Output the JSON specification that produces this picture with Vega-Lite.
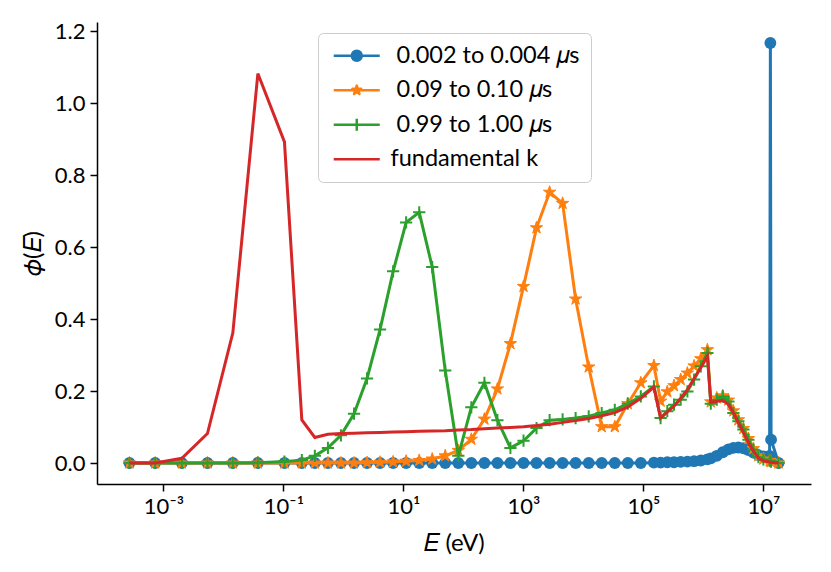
{
"$schema": "https://vega.github.io/schema/vega-lite/v6.json",
"width": 714, "height": 462,
"autosize": "none",
"padding": {"left": 97, "top": 22, "right": 20, "bottom": 88},
"background": "white",
"config": {"view": {"stroke": null}, "font": "Lato"},
"data": {"values": [
{"k":"b","E":0.000271,"phi":0},{"k":"b","E":0.000727,"phi":0},{"k":"b","E":0.002026,"phi":0},{"k":"b","E":0.00541,"phi":0},{"k":"b","E":0.01434,"phi":0},{"k":"b","E":0.03745,"phi":0},{"k":"b","E":0.1039,"phi":0},{"k":"b","E":0.2025,"phi":0},{"k":"b","E":0.3338,"phi":0},{"k":"b","E":0.5515,"phi":0},{"k":"b","E":0.9085,"phi":0},{"k":"b","E":1.502,"phi":0},{"k":"b","E":2.474,"phi":0},{"k":"b","E":4.074,"phi":0},{"k":"b","E":6.734,"phi":0},{"k":"b","E":11.09,"phi":0},{"k":"b","E":18.34,"phi":0},{"k":"b","E":30.2,"phi":0},{"k":"b","E":49.74,"phi":0},{"k":"b","E":82.22,"phi":0},{"k":"b","E":135.4,"phi":0},{"k":"b","E":223.9,"phi":0},{"k":"b","E":368.8,"phi":0},{"k":"b","E":607.3,"phi":0},{"k":"b","E":1004,"phi":0},{"k":"b","E":1653,"phi":0},{"k":"b","E":2734,"phi":0},{"k":"b","E":4502,"phi":0},{"k":"b","E":7413,"phi":0},{"k":"b","E":12255,"phi":0},{"k":"b","E":20184,"phi":0},{"k":"b","E":33370,"phi":0},{"k":"b","E":54950,"phi":0},{"k":"b","E":90510,"phi":0},{"k":"b","E":149600,"phi":0.001},{"k":"b","E":193500,"phi":0.001},{"k":"b","E":250200,"phi":0.002},{"k":"b","E":323600,"phi":0.002},{"k":"b","E":418500,"phi":0.003},{"k":"b","E":541200,"phi":0.004},{"k":"b","E":699800,"phi":0.005},{"k":"b","E":905100,"phi":0.007},{"k":"b","E":1166000,"phi":0.01},{"k":"b","E":1329000,"phi":0.013},{"k":"b","E":1672000,"phi":0.02},{"k":"b","E":2105000,"phi":0.03},{"k":"b","E":2610000,"phi":0.038},{"k":"b","E":3162000,"phi":0.042},{"k":"b","E":3831000,"phi":0.043},{"k":"b","E":4642000,"phi":0.041},{"k":"b","E":5623000,"phi":0.036},{"k":"b","E":6813000,"phi":0.029},{"k":"b","E":8254000,"phi":0.022},{"k":"b","E":10000000,"phi":0.018},{"k":"b","E":12700000,"phi":0.02},{"k":"b","E":13080000,"phi":1.168},{"k":"b","E":13440000,"phi":0.065},{"k":"b","E":17920000,"phi":0},
{"k":"o","E":0.000271,"phi":0},{"k":"o","E":0.000727,"phi":0},{"k":"o","E":0.002026,"phi":0},{"k":"o","E":0.00541,"phi":0},{"k":"o","E":0.01434,"phi":0},{"k":"o","E":0.03745,"phi":0},{"k":"o","E":0.1039,"phi":0},{"k":"o","E":0.2025,"phi":0},{"k":"o","E":0.3338,"phi":0},{"k":"o","E":0.5515,"phi":0},{"k":"o","E":0.9085,"phi":0},{"k":"o","E":1.502,"phi":0},{"k":"o","E":2.474,"phi":0.001},{"k":"o","E":4.074,"phi":0.002},{"k":"o","E":6.734,"phi":0.003},{"k":"o","E":11.09,"phi":0.005},{"k":"o","E":18.34,"phi":0.007},{"k":"o","E":30.2,"phi":0.011},{"k":"o","E":49.74,"phi":0.02},{"k":"o","E":82.22,"phi":0.035},{"k":"o","E":135.4,"phi":0.066},{"k":"o","E":223.9,"phi":0.122},{"k":"o","E":368.8,"phi":0.206},{"k":"o","E":607.3,"phi":0.332},{"k":"o","E":1004,"phi":0.491},{"k":"o","E":1653,"phi":0.654},{"k":"o","E":2734,"phi":0.753},{"k":"o","E":4502,"phi":0.722},{"k":"o","E":7413,"phi":0.456},{"k":"o","E":12255,"phi":0.267},{"k":"o","E":20184,"phi":0.101},{"k":"o","E":33370,"phi":0.101},{"k":"o","E":54950,"phi":0.165},{"k":"o","E":90510,"phi":0.223},{"k":"o","E":149600,"phi":0.271},{"k":"o","E":193500,"phi":0.172},{"k":"o","E":250200,"phi":0.198},{"k":"o","E":323600,"phi":0.215},{"k":"o","E":418500,"phi":0.232},{"k":"o","E":541200,"phi":0.25},{"k":"o","E":699800,"phi":0.27},{"k":"o","E":905100,"phi":0.29},{"k":"o","E":1166000,"phi":0.315},{"k":"o","E":1329000,"phi":0.17},{"k":"o","E":1672000,"phi":0.181},{"k":"o","E":2105000,"phi":0.187},{"k":"o","E":2610000,"phi":0.175},{"k":"o","E":3162000,"phi":0.145},{"k":"o","E":3831000,"phi":0.12},{"k":"o","E":4642000,"phi":0.096},{"k":"o","E":5623000,"phi":0.068},{"k":"o","E":6813000,"phi":0.04},{"k":"o","E":8254000,"phi":0.02},{"k":"o","E":10000000,"phi":0.011},{"k":"o","E":12700000,"phi":0.007},{"k":"o","E":13080000,"phi":0.005},{"k":"o","E":13440000,"phi":0.004},{"k":"o","E":17920000,"phi":0},
{"k":"g","E":0.000271,"phi":0},{"k":"g","E":0.000727,"phi":0},{"k":"g","E":0.002026,"phi":0},{"k":"g","E":0.00541,"phi":0},{"k":"g","E":0.01434,"phi":0},{"k":"g","E":0.03745,"phi":0.001},{"k":"g","E":0.1039,"phi":0.004},{"k":"g","E":0.2025,"phi":0.008},{"k":"g","E":0.3338,"phi":0.02},{"k":"g","E":0.5515,"phi":0.042},{"k":"g","E":0.9085,"phi":0.077},{"k":"g","E":1.502,"phi":0.137},{"k":"g","E":2.474,"phi":0.235},{"k":"g","E":4.074,"phi":0.371},{"k":"g","E":6.734,"phi":0.533},{"k":"g","E":11.09,"phi":0.669},{"k":"g","E":18.34,"phi":0.697},{"k":"g","E":30.2,"phi":0.545},{"k":"g","E":49.74,"phi":0.257},{"k":"g","E":82.22,"phi":0.02},{"k":"g","E":135.4,"phi":0.155},{"k":"g","E":223.9,"phi":0.223},{"k":"g","E":368.8,"phi":0.119},{"k":"g","E":607.3,"phi":0.042},{"k":"g","E":1004,"phi":0.062},{"k":"g","E":1653,"phi":0.097},{"k":"g","E":2734,"phi":0.119},{"k":"g","E":4502,"phi":0.121},{"k":"g","E":7413,"phi":0.125},{"k":"g","E":12255,"phi":0.13},{"k":"g","E":20184,"phi":0.139},{"k":"g","E":33370,"phi":0.148},{"k":"g","E":54950,"phi":0.165},{"k":"g","E":90510,"phi":0.185},{"k":"g","E":149600,"phi":0.213},{"k":"g","E":193500,"phi":0.125},{"k":"g","E":250200,"phi":0.144},{"k":"g","E":323600,"phi":0.162},{"k":"g","E":418500,"phi":0.176},{"k":"g","E":541200,"phi":0.199},{"k":"g","E":699800,"phi":0.232},{"k":"g","E":905100,"phi":0.269},{"k":"g","E":1166000,"phi":0.306},{"k":"g","E":1329000,"phi":0.165},{"k":"g","E":1672000,"phi":0.176},{"k":"g","E":2105000,"phi":0.185},{"k":"g","E":2610000,"phi":0.171},{"k":"g","E":3162000,"phi":0.139},{"k":"g","E":3831000,"phi":0.116},{"k":"g","E":4642000,"phi":0.093},{"k":"g","E":5623000,"phi":0.065},{"k":"g","E":6813000,"phi":0.037},{"k":"g","E":8254000,"phi":0.016},{"k":"g","E":10000000,"phi":0.01},{"k":"g","E":12700000,"phi":0.007},{"k":"g","E":13080000,"phi":0.005},{"k":"g","E":13440000,"phi":0.004},{"k":"g","E":17920000,"phi":0},
{"k":"r","E":0.000271,"phi":0},{"k":"r","E":0.000727,"phi":0},{"k":"r","E":0.002026,"phi":0.013},{"k":"r","E":0.00541,"phi":0.082},{"k":"r","E":0.01434,"phi":0.362},{"k":"r","E":0.03745,"phi":1.083},{"k":"r","E":0.1039,"phi":0.893},{"k":"r","E":0.2025,"phi":0.12},{"k":"r","E":0.3338,"phi":0.071},{"k":"r","E":0.5515,"phi":0.08},{"k":"r","E":0.9085,"phi":0.082},{"k":"r","E":1.502,"phi":0.083},{"k":"r","E":2.474,"phi":0.084},{"k":"r","E":4.074,"phi":0.085},{"k":"r","E":6.734,"phi":0.086},{"k":"r","E":11.09,"phi":0.087},{"k":"r","E":18.34,"phi":0.088},{"k":"r","E":30.2,"phi":0.089},{"k":"r","E":49.74,"phi":0.09},{"k":"r","E":82.22,"phi":0.092},{"k":"r","E":135.4,"phi":0.093},{"k":"r","E":223.9,"phi":0.095},{"k":"r","E":368.8,"phi":0.097},{"k":"r","E":607.3,"phi":0.099},{"k":"r","E":1004,"phi":0.101},{"k":"r","E":1653,"phi":0.104},{"k":"r","E":2734,"phi":0.108},{"k":"r","E":4502,"phi":0.113},{"k":"r","E":7413,"phi":0.118},{"k":"r","E":12255,"phi":0.124},{"k":"r","E":20184,"phi":0.131},{"k":"r","E":33370,"phi":0.14},{"k":"r","E":54950,"phi":0.156},{"k":"r","E":90510,"phi":0.18},{"k":"r","E":149600,"phi":0.211},{"k":"r","E":193500,"phi":0.125},{"k":"r","E":250200,"phi":0.142},{"k":"r","E":323600,"phi":0.158},{"k":"r","E":418500,"phi":0.18},{"k":"r","E":541200,"phi":0.204},{"k":"r","E":699800,"phi":0.235},{"k":"r","E":905100,"phi":0.265},{"k":"r","E":1166000,"phi":0.297},{"k":"r","E":1329000,"phi":0.169},{"k":"r","E":1672000,"phi":0.172},{"k":"r","E":2105000,"phi":0.174},{"k":"r","E":2610000,"phi":0.163},{"k":"r","E":3162000,"phi":0.14},{"k":"r","E":3831000,"phi":0.112},{"k":"r","E":4642000,"phi":0.085},{"k":"r","E":5623000,"phi":0.057},{"k":"r","E":6813000,"phi":0.033},{"k":"r","E":8254000,"phi":0.014},{"k":"r","E":10000000,"phi":0.006},{"k":"r","E":12700000,"phi":0.003},{"k":"r","E":13080000,"phi":0.002},{"k":"r","E":13440000,"phi":0.002},{"k":"r","E":17920000,"phi":0}
]},
"encoding": {
  "x": {"field": "E", "type": "quantitative",
    "scale": {"type": "log", "domain": [7.8e-5, 6.22e7], "nice": false},
    "axis": {"values": [0.001, 0.1, 10, 1000, 100000, 10000000],
      "labelExpr": "datum.value < 0.01 ? '10⁻³' : datum.value < 1 ? '10⁻¹' : datum.value < 100 ? '10¹' : datum.value < 10000 ? '10³' : datum.value < 1000000 ? '10⁵' : '10⁷'",
      "title": "𝐸 (eV)", "grid": false, "tickSize": 7, "tickWidth": 1.5, "domainWidth": 1.5,
      "domainColor": "black", "tickColor": "black", "labelColor": "black", "titleColor": "black",
      "labelFontSize": 22, "labelFont": "Lato", "titleFont": "Lato", "titleFontSize": 24, "titleFontWeight": "normal",
      "labelPadding": 5, "titlePadding": 14, "labelFlush": false}},
  "y": {"field": "phi", "type": "quantitative",
    "scale": {"domain": [-0.0584, 1.2264], "nice": false, "zero": false},
    "axis": {"values": [0, 0.2, 0.4, 0.6, 0.8, 1.0, 1.2], "format": ".1f",
      "title": "𝜙(𝐸)", "grid": false, "tickSize": 7, "tickWidth": 1.5, "domainWidth": 1.5,
      "domainColor": "black", "tickColor": "black", "labelColor": "black", "titleColor": "black",
      "labelFontSize": 22, "labelFont": "Lato", "titleFont": "Lato", "titleFontSize": 24, "titleFontWeight": "normal",
      "labelPadding": 5, "titlePadding": 9, "labelFlush": false}},
  "color": {"field": "k", "type": "nominal",
    "scale": {"domain": ["b", "o", "g", "r"], "range": ["#1f77b4", "#ff7f0e", "#2ca02c", "#d62728"]},
    "legend": {"title": null, "orient": "none", "legendX": 221, "legendY": 11,
      "labelExpr": "datum.value === 'b' ? '0.002 to 0.004 𝜇s' : datum.value === 'o' ? '0.09 to 0.10 𝜇s' : datum.value === 'g' ? '0.99 to 1.00 𝜇s' : 'fundamental k'",
      "labelFont": "Lato", "labelFontSize": 23.5, "labelColor": "black", "labelLimit": 400,
      "symbolSize": 144, "symbolStrokeWidth": 2.5, "labelOffset": 38,
      "padding": 11, "rowPadding": 9.5,
      "fillColor": "rgba(255,255,255,0.8)", "strokeColor": "#cccccc", "cornerRadius": 5,
      "encode": {
        "labels": {"update": {"dx": {"signal": "datum.value === 'r' ? 0 : 6"}}},
        "symbols": {"update": {
        "shape": {"signal": "datum.value === 'b' ? 'M-1.17,0L6.5,0M3.503,0C3.503,0.46,3.13,0.833,2.67,0.833C2.21,0.833,1.837,0.46,1.837,0C1.837,-0.46,2.21,-0.833,2.67,-0.833C3.13,-0.833,3.503,-0.46,3.503,0Z' : datum.value === 'o' ? 'M-1.17,0L6.5,0M2.67,-0.767L2.842,-0.237L3.399,-0.237L2.948,0.091L3.121,0.62L2.67,0.293L2.219,0.62L2.392,0.091L1.941,-0.237L2.498,-0.237Z' : datum.value === 'g' ? 'M-1.17,0L6.5,0M2.67,-1L2.67,1' : 'M-1.17,0L6.5,0'"},
        "fill": {"scale": "color", "field": "value"},
        "stroke": {"scale": "color", "field": "value"},
        "strokeWidth": {"value": 2.5},
        "strokeJoin": {"value": "round"},
        "opacity": {"value": 1},
        "fillOpacity": {"value": 1},
        "strokeOpacity": {"value": 1}}}}}}
},
"layer": [
  {"transform": [{"filter": {"field": "k", "equal": "b"}}], "mark": {"type": "line", "strokeWidth": 3}, "encoding": {}},
  {"transform": [{"filter": {"field": "k", "equal": "b"}}], "mark": {"type": "point", "shape": "circle", "filled": true, "size": 140, "opacity": 1}},
  {"transform": [{"filter": {"field": "k", "equal": "o"}}], "mark": {"type": "line", "strokeWidth": 3}, "encoding": {}},
  {"transform": [{"filter": {"field": "k", "equal": "o"}}], "mark": {"type": "point", "shape": "M0,-1L0.2245,-0.309L0.951,-0.309L0.363,0.118L0.588,0.809L0,0.382L-0.588,0.809L-0.363,0.118L-0.951,-0.309L-0.2245,-0.309Z", "filled": true, "size": 170, "opacity": 1, "stroke": "#ff7f0e", "strokeWidth": 1}},
  {"transform": [{"filter": {"field": "k", "equal": "g"}}], "mark": {"type": "line", "strokeWidth": 3}, "encoding": {}},
  {"transform": [{"filter": {"field": "k", "equal": "g"}}], "mark": {"type": "point", "shape": "M-1,0L1,0M0,-1L0,1", "filled": false, "size": 150, "opacity": 1, "strokeWidth": 2}},
  {"transform": [{"filter": {"field": "k", "equal": "r"}}], "mark": {"type": "line", "strokeWidth": 3}, "encoding": {}}
]
}
